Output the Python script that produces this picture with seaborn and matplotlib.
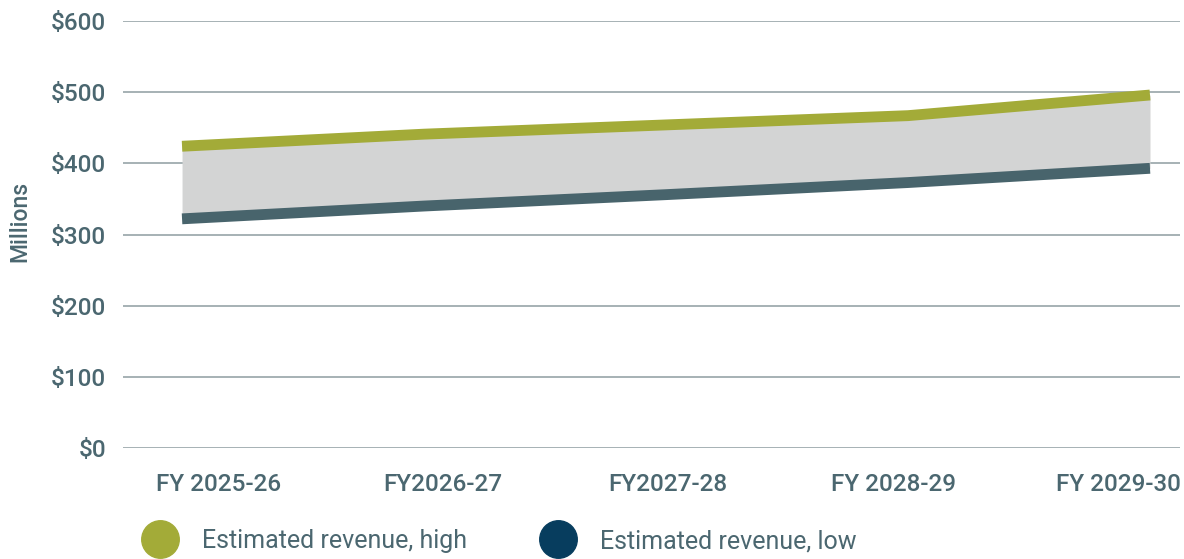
import pandas as pd
import matplotlib.pyplot as plt
import seaborn as sns
from matplotlib.lines import Line2D

# Data (millions of dollars)
years = ["FY 2025-26", "FY2026-27", "FY2027-28", "FY 2028-29", "FY 2029-30"]
revenue_high = [424, 441, 454, 467, 496]
revenue_low = [322, 340, 356, 373, 393]

green = "#a3ab38"
slate = "#48646c"
navy = "#073d5e"
band = "#d3d4d4"
text_color = "#4b6770"

sns.set_theme(style="white")
plt.rcParams["font.family"] = ["Roboto", "DejaVu Sans"]

df = pd.DataFrame({"x": range(len(years)), "high": revenue_high, "low": revenue_low})

fig = plt.figure(figsize=(11.84, 5.59), dpi=100)
ax = fig.add_axes([123 / 1184, 111 / 559, 1057 / 1184, 427 / 559])

# Shaded range between the estimates
ax.fill_between(df["x"], df["low"], df["high"], color=band, linewidth=0, zorder=1)

sns.lineplot(data=df, x="x", y="high", color=green, linewidth=7.8, ax=ax,
             solid_capstyle="butt", zorder=3)
sns.lineplot(data=df, x="x", y="low", color=slate, linewidth=7.8, ax=ax,
             solid_capstyle="butt", zorder=3)

ax.set_ylim(0, 600)
ax.set_xlim(-0.244, 4.124)
ax.set_yticks(range(0, 601, 100))
ax.set_yticklabels([f"${v}" for v in range(0, 601, 100)], fontsize=17.5,
                   color=text_color, fontweight="medium")
ax.set_xticks([0.149, 1.079, 2.008, 2.938, 3.868])
ax.set_xticklabels(years, fontsize=17.5, color=text_color, fontweight="medium")
ax.tick_params(axis="x", length=0, pad=18)
ax.tick_params(axis="y", length=0, pad=12)

ax.grid(axis="y", color="#8e9ca1", linewidth=1.1, zorder=0)
ax.set_axisbelow(True)
for s in ax.spines.values():
    s.set_visible(False)

ax.set_xlabel("")
ax.set_ylabel("Millions", fontsize=16.5, color=text_color, fontweight="medium")
ax.yaxis.set_label_coords(-0.087, 0.53)

handles = [
    Line2D([], [], marker="o", linestyle="none", markersize=27, color=green),
    Line2D([], [], marker="o", linestyle="none", markersize=27, color=navy),
]
fig.legend(handles, ["Estimated revenue, high", "Estimated revenue, low"],
           loc="center left", bbox_to_anchor=(125 / 1184, 1 - 541 / 559),
           ncol=2, frameon=False, prop={"size": 18}, labelcolor=text_color,
           handletextpad=0.7, columnspacing=2.6, borderaxespad=0)

plt.savefig("out.png", dpi=100)
